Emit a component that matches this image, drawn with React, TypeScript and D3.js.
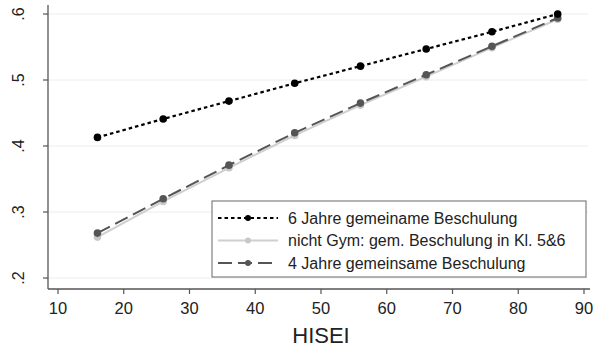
import React from 'react';
import * as d3 from 'd3';

const hisei = [16, 26, 36, 46, 56, 66, 76, 86];
const sechsJahre = [0.413, 0.441, 0.468, 0.495, 0.521, 0.547, 0.573, 0.6];
const nichtGym = [0.262, 0.316, 0.367, 0.416, 0.462, 0.505, 0.549, 0.592];
const vierJahre = [0.268, 0.32, 0.371, 0.42, 0.465, 0.508, 0.551, 0.594];
const xTicks = [10, 20, 30, 40, 50, 60, 70, 80, 90];
const yTicks = [0.2, 0.3, 0.4, 0.5, 0.6];
const labels = [
  '6 Jahre gemeiname Beschulung',
  'nicht Gym: gem. Beschulung in Kl. 5&6',
  '4 Jahre gemeinsame Beschulung',
];

const W = 596;
const H = 347;
const font = 'Liberation Sans, Arial, sans-serif';

const series = [
  { vals: sechsJahre, color: '#000', dot: '#000', dash: '3.5,3', w: 2.2 },
  { vals: nichtGym, color: '#cfcfcf', dot: '#c8c8c8', dash: null, w: 2 },
  { vals: vierJahre, color: '#555', dot: '#555', dash: '14,6', w: 2 },
];

export default function App() {
  const x = d3.scaleLinear().domain([10, 90]).range([58, 584]);
  const y = d3.scaleLinear().domain([0.2, 0.6]).range([278, 14]);
  const axX = 48;
  const axY = 289;

  const line = (vals: number[]) =>
    d3.line<number>().x((_, i) => x(hisei[i])).y(d => y(d))(vals) || '';

  return (
    <svg width={W} height={H} style={{ position: 'absolute', left: 0, top: 0, background: '#fff' }}
      fontFamily={font}>
      {yTicks.map(t => (
        <line key={'g' + t} x1={axX} x2={588} y1={y(t)} y2={y(t)} stroke="#ececec" strokeWidth={1} />
      ))}
      {/* axes */}
      <line x1={axX} x2={axX} y1={5} y2={axY} stroke="#555" strokeWidth={1.3} />
      <line x1={axX} x2={590} y1={axY} y2={axY} stroke="#555" strokeWidth={1.3} />
      {yTicks.map(t => (
        <g key={'y' + t}>
          <line x1={axX - 5} x2={axX} y1={y(t)} y2={y(t)} stroke="#555" strokeWidth={1.2} />
          <text transform={`translate(24,${y(t)}) rotate(-90)`} textAnchor="middle" fontSize={16}
            fill="#222">{d3.format('.1f')(t).replace(/^0/, '')}</text>
        </g>
      ))}
      {xTicks.map(t => (
        <g key={'x' + t}>
          <line x1={x(t)} x2={x(t)} y1={axY} y2={axY + 5} stroke="#555" strokeWidth={1.2} />
          <text x={x(t)} y={axY + 25} textAnchor="middle" fontSize={16.5} fill="#222">{t}</text>
        </g>
      ))}
      <text x={321} y={343} textAnchor="middle" fontSize={22} fill="#222">HISEI</text>

      {[1, 2, 0].map(k => {
        const s = series[k];
        return (
          <g key={'s' + k}>
            <path d={line(s.vals)} fill="none" stroke={s.color} strokeWidth={s.w}
              strokeDasharray={s.dash || undefined} />
            {s.vals.map((v, i) => (
              <circle key={i} cx={x(hisei[i])} cy={y(v)} r={3.8} fill={s.dot} />
            ))}
          </g>
        );
      })}

      {/* legend */}
      <rect x={212} y={201} width={374} height={76} fill="#fff" stroke="#666" strokeWidth={1} />
      {labels.map((l, i) => {
        const s = series[i];
        const ly = 218 + i * 22.5;
        return (
          <g key={'l' + i}>
            <line x1={218} x2={278} y1={ly} y2={ly} stroke={s.color} strokeWidth={s.w}
              strokeDasharray={s.dash || undefined} />
            <circle cx={248} cy={ly} r={3} fill={s.dot} />
            <text x={288} y={ly + 5.5} fontSize={16} fill="#222">{l}</text>
          </g>
        );
      })}
    </svg>
  );
}
